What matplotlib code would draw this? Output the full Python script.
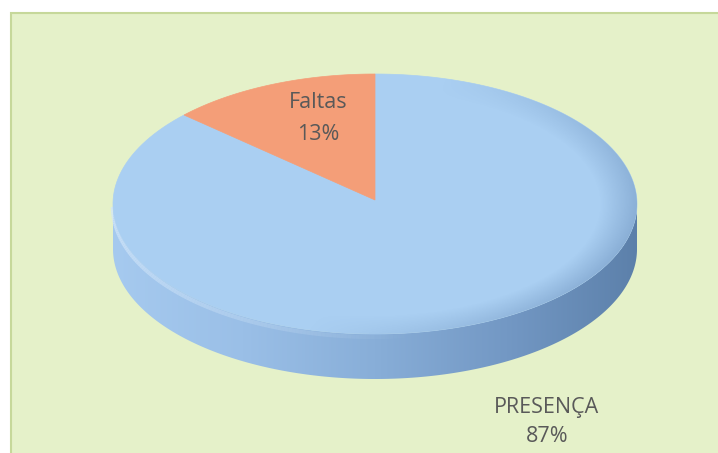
import numpy as np
import matplotlib
matplotlib.use('Agg')
import matplotlib.pyplot as plt
from matplotlib.patches import Polygon, Rectangle
from matplotlib.colors import LinearSegmentedColormap, to_rgb
from matplotlib.collections import LineCollection

# data
labels = ['PRESENÇA', 'Faltas']
values = [87, 13]
colors = ['#aacff2', '#f49e78']

plt.rcParams['font.family'] = ['Open Sans', 'DejaVu Sans']

W, H = 718, 453
fig = plt.figure(figsize=(W / 100, H / 100), dpi=100)
fig.patch.set_facecolor('white')
ax = fig.add_axes([0, 0, 1, 1])
ax.set_xlim(0, W)
ax.set_ylim(H, 0)
ax.axis('off')

# chart area
ax.add_patch(Rectangle((11, 13), W, H, facecolor='#e5f1c9', edgecolor='#c6d89a', lw=1.5))

# pie geometry (pixel coords, y down)
cx, cy = 375, 204          # ellipse centre
ox, oy = 375, 200          # slice apex
a, b = 262, 130
depth = 45


def pt(t, dy=0.0):
    return np.column_stack([cx + a * np.cos(t), cy - b * np.sin(t) + dy])


# side wall
ts = np.linspace(np.pi, 2 * np.pi, 300)
top_edge = pt(ts)
bot_edge = pt(ts[::-1], depth)
side = Polygon(np.vstack([top_edge, bot_edge]), closed=True, facecolor='none', edgecolor='none')
ax.add_patch(side)
side_cmap = LinearSegmentedColormap.from_list(
    'side', ['#a6caef', '#9abfe7', '#88aed8', '#7398c4', '#5c80aa'])
grad = np.linspace(0, 1, 256).reshape(1, -1)
img = ax.imshow(grad, cmap=side_cmap, extent=[cx - a - 2, cx + a + 2, cy + b + depth + 10, cy - 10],
                aspect='auto', zorder=2)
img.set_clip_path(side)

# fading rim highlight on the left/front
hl = pt(np.linspace(np.pi, 1.55 * np.pi, 120), 3)
segs = np.stack([hl[:-1], hl[1:]], axis=1)
fade = np.linspace(0.8, 0.0, len(segs))
hc = np.array([to_rgb('#d2e6f9') + (f,) for f in fade])
ax.add_collection(LineCollection(segs, colors=hc, linewidths=3, zorder=3))

# top face slices, clockwise from 12 o'clock
start = np.pi / 2
for val, col in zip(values, colors):
    sweep = 2 * np.pi * val / sum(values)
    tt = np.linspace(start, start - sweep, 200)
    poly = np.vstack([[ox, oy], pt(tt)])
    ax.add_patch(Polygon(poly, closed=True, facecolor=col, edgecolor=col, lw=0.5, zorder=4))
    start -= sweep

# soft darkening near the right rim of the top face
top_face = Polygon(pt(np.linspace(0, 2 * np.pi, 400)), closed=True, facecolor='none', edgecolor='none')
ax.add_patch(top_face)
gx, gy = np.meshgrid(np.linspace(cx - a, cx + a, 400), np.linspace(cy - b, cy + b, 200))
ux, uy = (gx - cx) / a, (cy - gy) / b
r = np.hypot(ux, uy)
ang = np.arctan2(uy, ux)
shade = np.clip((r - 0.86) / 0.14, 0, 1) * np.clip(np.cos(ang + np.radians(15)), 0, 1) * 0.35
rgba = np.zeros(gx.shape + (4,))
rgba[..., :3] = to_rgb('#4f74a3')
rgba[..., 3] = shade
sh = ax.imshow(rgba, extent=[cx - a, cx + a, cy + b, cy - b], aspect='auto', zorder=4.5)
sh.set_clip_path(top_face)

# labels
txt = dict(color='#595959', fontsize=15.5, ha='center', va='center', zorder=5)
ax.text(318, 103, labels[1], **txt)
ax.text(318, 135, f'{values[1]}%', **txt)
ax.text(547, 407, labels[0], **txt)
ax.text(547, 437, f'{values[0]}%', **txt)

plt.savefig('out.png', dpi=100)
plt.close()
